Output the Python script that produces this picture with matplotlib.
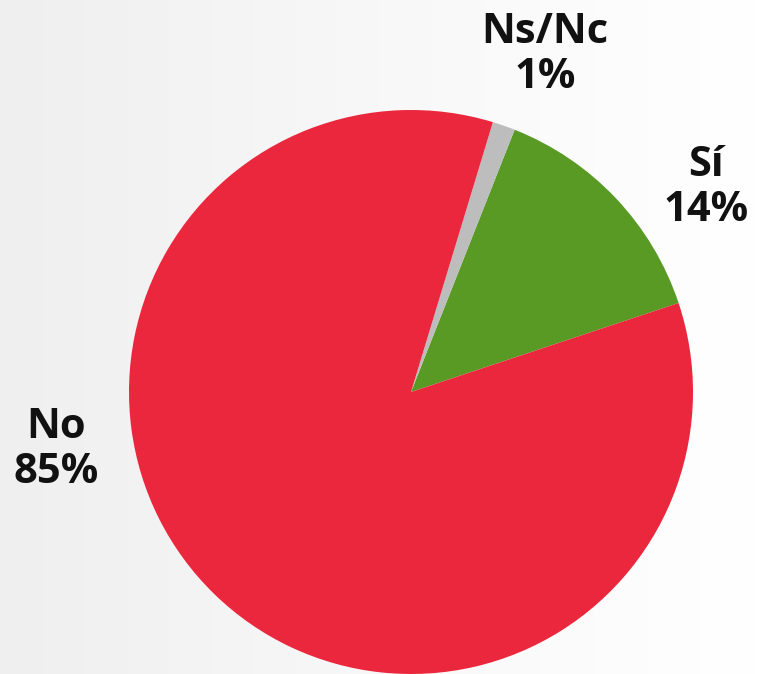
import matplotlib
matplotlib.use("Agg")
import matplotlib.pyplot as plt
import numpy as np
from matplotlib.colors import LinearSegmentedColormap

categories = ["Sí", "Ns/Nc", "No"]
values = [13.9, 1.3, 84.8]
colors = ["#589A24", "#BDBDBD", "#EB273D"]
pct_labels = ["14%", "1%", "85%"]

W, H = 757, 674
fig = plt.figure(figsize=(W / 100, H / 100), dpi=100)

# background gradient
bg = fig.add_axes([0, 0, 1, 1])
grad = np.linspace(0, 1, 256).reshape(1, -1)
cmap = LinearSegmentedColormap.from_list("bg", ["#EFEFEF", "#F8F8F8", "#FFFFFF"])
bg.imshow(grad, aspect="auto", cmap=cmap, extent=[0, 1, 0, 1])
bg.set_axis_off()

cx, cy, r = 411, 392, 282
ax = fig.add_axes([(cx - r) / W, (H - cy - r) / H, 2 * r / W, 2 * r / H])
ax.pie(values, colors=colors, startangle=18.4, counterclock=True,
       wedgeprops=dict(linewidth=0), radius=1)
ax.set_xlim(-1, 1)
ax.set_ylim(-1, 1)
ax.set_axis_off()

label_pos = [(706, 188), (545, 55), (56, 450)]
for name, pct, (px, py) in zip(categories, pct_labels, label_pos):
    fig.text(px / W, 1 - py / H, f"{name}\n{pct}", ha="center", va="center",
             fontsize=30, fontweight="bold", family="Open Sans",
             linespacing=1.15, color="#111111")

fig.savefig("out.png", dpi=100)
